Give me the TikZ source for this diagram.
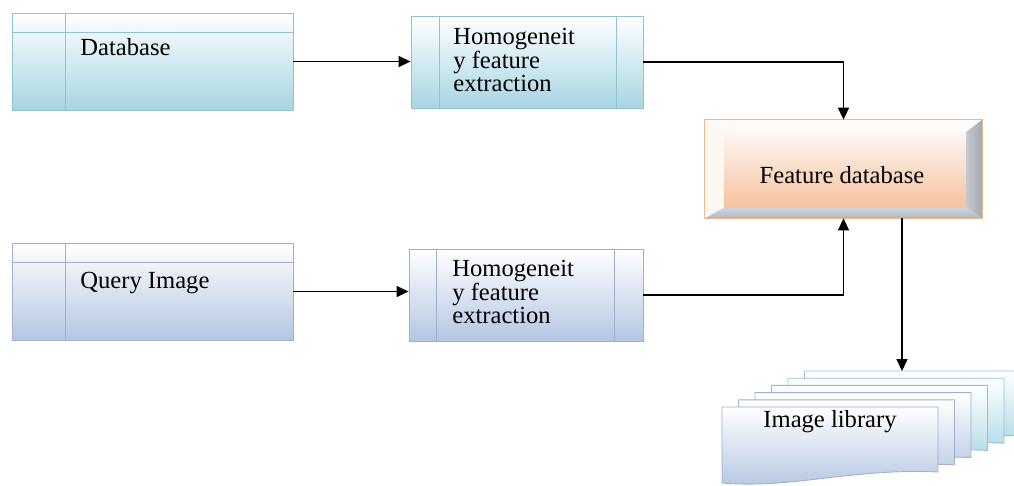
\documentclass[tikz,border=0pt]{standalone}
\usepackage{fontspec}
\setmainfont{Liberation Serif}
\usetikzlibrary{arrows.meta,calc,shadows}
\definecolor{cianborde}{HTML}{8EC4D2}
\definecolor{cian}{HTML}{A6D5E2}
\definecolor{lilaborde}{HTML}{9DB0CF}
\definecolor{lila}{HTML}{B4C6E3}
\definecolor{melocoton}{HTML}{F6C29F}
\definecolor{meloborde}{HTML}{EDB88F}
\definecolor{bisel}{HTML}{A0A9B2}

\begin{document}
\begin{tikzpicture}[x=0.02cm, y=-0.02cm, font=\fontsize{14}{13.5}\selectfont,
  caja/.style={draw, inner sep=0pt, line width=0.5pt, top color=white,
    drop shadow={shadow xshift=0.8pt, shadow yshift=-0.8pt, opacity=0.3}},
  cajacian/.style={caja, draw=cianborde, bottom color=cian},
  cajalila/.style={caja, draw=lilaborde, bottom color=lila},
  sep/.style={line width=0.5pt},
  texto/.style={anchor=west, align=left, inner sep=0pt},
  flecha/.style={-{Triangle[length=2.4mm, width=2.2mm]}, line width=0.8pt}]
  \useasboundingbox (0,0) rectangle (1014,485);
  % fila superior
  \node[cajacian, minimum width=5.62cm, minimum height=1.94cm] (db) at (152.5,61.5) {};
  \draw[sep, cianborde] ($(db.north west)+(54,0)$) -- ($(db.south west)+(54,0)$);
  \draw[sep, cianborde] ($(db.north west)+(0,20)$) -- ($(db.north east)+(0,20)$);
  \node[texto] (dbtxt) at (80,47) {Database};
  \node[cajacian, minimum width=4.64cm, minimum height=1.84cm] (hf1) at (527,62) {};
  \draw[sep, cianborde] ($(hf1.north west)+(29,0)$) -- ($(hf1.south west)+(29,0)$);
  \draw[sep, cianborde] ($(hf1.north east)+(-27,0)$) -- ($(hf1.south east)+(-27,0)$);
  \node[texto] (hf1txt) at (453,60) {Homogeneit\\y feature\\extraction};
  % fila inferior
  \node[cajalila, minimum width=5.62cm, minimum height=1.94cm] (qi) at (152.5,291.5) {};
  \draw[sep, lilaborde] ($(qi.north west)+(54,0)$) -- ($(qi.south west)+(54,0)$);
  \draw[sep, lilaborde] ($(qi.north west)+(0,20)$) -- ($(qi.north east)+(0,20)$);
  \node[texto] (qitxt) at (80,283) {Query Image};
  \node[cajalila, minimum width=4.68cm, minimum height=1.84cm] (hf2) at (526,295) {};
  \draw[sep, lilaborde] ($(hf2.north west)+(28,0)$) -- ($(hf2.south west)+(28,0)$);
  \draw[sep, lilaborde] ($(hf2.north east)+(-29,0)$) -- ($(hf2.south east)+(-29,0)$);
  \node[texto] (hf2txt) at (452,292) {Homogeneit\\y feature\\extraction};
  % base de caracteristicas (bisel)
  \node[draw=meloborde, fill=white, inner sep=0pt, minimum width=5.54cm, minimum height=1.96cm] (fdb) at (843.5,169) {};
  \coordinate (fi1) at ($(fdb.north west)+(20,13)$);
  \coordinate (fi2) at ($(fdb.north east)+(-17,13)$);
  \coordinate (fi3) at ($(fdb.south east)+(-17,-11)$);
  \coordinate (fi4) at ($(fdb.south west)+(20,-11)$);
  \fill[melocoton!12] (fdb.north west) -- (fi1) -- (fi4) -- (fdb.south west) -- cycle;
  \fill[melocoton!8] (fdb.north west) -- (fdb.north east) -- (fi2) -- (fi1) -- cycle;
  \shade[left color=bisel!60, right color=bisel] (fdb.north east) -- (fi2) -- (fi3) -- (fdb.south east) -- cycle;
  \shade[top color=bisel!45, bottom color=bisel!85] (fdb.south west) -- (fi4) -- (fi3) -- (fdb.south east) -- cycle;
  \shade[top color=melocoton!15, bottom color=melocoton] (fi1) rectangle (fi3);
  \draw[sep, meloborde] (fdb.north west) rectangle (fdb.south east);
  \node (fdbtxt) at (842,175) {Feature database};
  % biblioteca de imagenes
  \foreach \i/\borde/\fondo in {5/cianborde/cian, 4/cianborde/cian, 3/cianborde/cian,
      2/lilaborde/lila, 1/lilaborde/lila, 0/lilaborde/lila}{
    \pgfmathsetmacro\px{722+16.5*\i}
    \pgfmathsetmacro\py{407-7.2*\i}
    \draw[sep, draw=\borde, top color=white, bottom color=\fondo]
      (\px,\py) -- (\px+216,\py) -- (\px+216,\py+65)
      .. controls (\px+130,\py+61) and (\px+70,\py+82) .. (\px,\py+76) -- cycle;
  }
  \node (lib) at (830,422) {Image library};
  \coordinate (libtop) at (902,371);
  % conexiones
  \draw[flecha] (db.east) -- (db.east -| hf1.west);
  \draw[flecha] (qi.east) -- (qi.east -| hf2.west);
  \draw[flecha] (hf1.east) -| (fdb.north);
  \draw[flecha] (hf2.east) -| (fdb.south);
  \draw[flecha] (fdb.south -| libtop) -- (libtop);
\end{tikzpicture}
\end{document}
